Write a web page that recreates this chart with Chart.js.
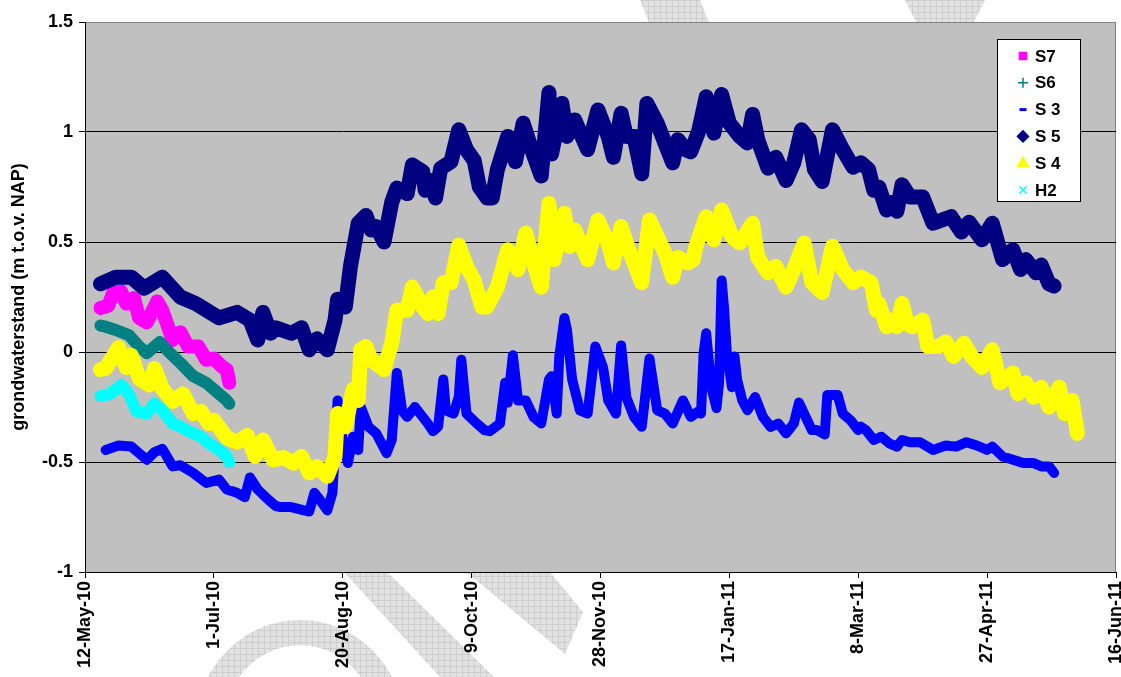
<!DOCTYPE html>
<html>
<head>
<meta charset="utf-8">
<title>grondwaterstand</title>
<script src="https://cdn.jsdelivr.net/npm/chart.js@4.4.1/dist/chart.umd.min.js"></script>
<style>
  body { margin: 0; background: #fff; }
  #wrap { width: 1121px; height: 677px; }
</style>
</head>
<body>
<div id="wrap"><canvas id="chart" width="1121" height="677"></canvas></div>
<script>
// x = days since 12-May-10, y = grondwaterstand (m t.o.v. NAP)
const tickLabels = ['12-May-10', '1-Jul-10', '20-Aug-10', '9-Oct-10', '28-Nov-10', '17-Jan-11', '8-Mar-11', '27-Apr-11', '16-Jun-11'];
const seriesNames = ['S7', 'S6', 'S 3', 'S 5', 'S 4', 'H2'];

const s7 = [[6,0.20],[9,0.21],[11,0.27],[14,0.275],[16,0.22],[19,0.245],[21,0.155],[24,0.135],[28,0.23],[30,0.19],[34,0.055],[37,0.09],[40,0.025],[44,0.025],[47,-0.035],[50,-0.03],[53,-0.065],[55,-0.08],[56,-0.14]];

const s6 = [[6,0.12],[8,0.115],[12,0.10],[17,0.077],[21,0.025],[24,-0.005],[29,0.045],[33,-0.005],[37,-0.05],[42,-0.11],[47,-0.14],[51,-0.18],[55,-0.22],[56,-0.235]];

const s3 = [[8,-0.445],[13,-0.425],[18,-0.43],[21,-0.46],[24,-0.49],[27,-0.455],[30,-0.44],[34,-0.52],[37,-0.515],[42,-0.55],[47,-0.595],[52,-0.58],[55,-0.625],[59,-0.64],[62,-0.66],[64,-0.57],[67,-0.625],[71,-0.67],[74,-0.70],[76,-0.705],[80,-0.705],[85,-0.72],[87,-0.725],[89,-0.64],[91,-0.67],[94,-0.72],[96,-0.64],[97,-0.43],[98,-0.22],[100,-0.40],[102,-0.505],[104,-0.385],[106,-0.445],[107,-0.25],[110,-0.34],[113,-0.37],[117,-0.46],[119,-0.40],[121,-0.095],[123,-0.265],[125,-0.295],[128,-0.25],[133,-0.325],[135,-0.36],[137,-0.34],[139,-0.125],[140,-0.265],[143,-0.28],[145,-0.205],[146,-0.035],[148,-0.28],[152,-0.325],[155,-0.355],[157,-0.36],[161,-0.325],[163,-0.14],[164,-0.23],[166,-0.015],[168,-0.22],[171,-0.22],[174,-0.295],[177,-0.325],[180,-0.125],[181,-0.11],[183,-0.28],[184,-0.02],[186,0.155],[187,0.10],[189,-0.125],[192,-0.265],[195,-0.28],[198,0.025],[201,-0.07],[203,-0.22],[206,-0.28],[208,0.03],[210,-0.205],[213,-0.295],[216,-0.34],[219,-0.03],[222,-0.265],[225,-0.28],[228,-0.325],[232,-0.22],[235,-0.295],[238,-0.27],[239,-0.28],[240,-0.005],[241,0.085],[243,-0.16],[245,-0.255],[246,-0.14],[247,0.325],[248,0.19],[249,-0.005],[251,-0.16],[252,-0.02],[253,-0.125],[255,-0.22],[257,-0.265],[260,-0.205],[263,-0.295],[266,-0.34],[269,-0.325],[272,-0.37],[275,-0.325],[277,-0.23],[279,-0.28],[282,-0.355],[284,-0.355],[287,-0.375],[288,-0.195],[292,-0.195],[294,-0.28],[297,-0.31],[300,-0.355],[301,-0.34],[303,-0.355],[306,-0.40],[309,-0.385],[312,-0.415],[315,-0.43],[317,-0.40],[320,-0.41],[324,-0.41],[329,-0.445],[334,-0.425],[338,-0.43],[342,-0.41],[346,-0.425],[350,-0.445],[352,-0.43],[356,-0.475],[360,-0.49],[364,-0.505],[368,-0.505],[371,-0.52],[374,-0.52],[376,-0.55]];

const s5 = [[6,0.31],[12,0.34],[18,0.34],[23,0.29],[30,0.34],[37,0.25],[43,0.22],[52,0.155],[59,0.18],[64,0.145],[67,0.055],[69,0.18],[72,0.085],[74,0.11],[80,0.085],[84,0.11],[87,0.01],[90,0.06],[94,0.01],[97,0.145],[98,0.24],[101,0.205],[103,0.39],[106,0.585],[109,0.62],[111,0.555],[113,0.57],[116,0.50],[119,0.68],[121,0.745],[125,0.72],[127,0.85],[131,0.82],[132,0.735],[134,0.78],[136,0.70],[138,0.835],[142,0.865],[145,1.01],[148,0.92],[151,0.87],[153,0.75],[156,0.70],[158,0.70],[160,0.83],[164,0.98],[167,0.865],[170,1.04],[173,0.93],[177,0.80],[180,1.18],[181,0.90],[185,1.13],[187,0.98],[190,1.055],[195,0.92],[199,1.10],[203,0.98],[205,0.885],[208,1.085],[210,0.98],[213,0.98],[216,0.81],[218,1.13],[222,1.04],[225,0.95],[228,0.86],[230,0.965],[233,0.92],[235,0.91],[238,1.00],[241,1.16],[244,0.995],[247,1.17],[250,1.04],[254,0.98],[257,0.95],[259,1.08],[261,0.965],[265,0.835],[268,0.885],[272,0.78],[275,0.86],[278,1.01],[281,0.965],[283,0.83],[286,0.775],[290,1.01],[294,0.92],[298,0.84],[301,0.86],[304,0.83],[306,0.735],[308,0.75],[311,0.645],[313,0.68],[315,0.64],[317,0.76],[320,0.705],[325,0.705],[329,0.585],[336,0.615],[340,0.545],[343,0.59],[348,0.51],[352,0.585],[356,0.42],[360,0.465],[363,0.375],[365,0.42],[369,0.36],[371,0.395],[374,0.31],[376,0.30]];

const s4 = [[6,-0.08],[8,-0.075],[13,0.02],[16,-0.07],[18,-0.015],[21,-0.12],[25,-0.15],[27,-0.075],[30,-0.165],[34,-0.225],[38,-0.19],[42,-0.28],[45,-0.27],[48,-0.325],[50,-0.31],[55,-0.39],[59,-0.41],[63,-0.38],[66,-0.475],[69,-0.40],[73,-0.49],[77,-0.48],[81,-0.505],[84,-0.475],[87,-0.55],[90,-0.52],[94,-0.565],[97,-0.475],[98,-0.28],[101,-0.34],[104,-0.17],[106,-0.22],[107,0.01],[109,0.025],[111,-0.035],[116,-0.08],[119,0.04],[121,0.19],[125,0.19],[127,0.295],[131,0.205],[133,0.175],[135,0.25],[137,0.175],[139,0.315],[142,0.315],[145,0.485],[148,0.39],[151,0.325],[154,0.205],[156,0.205],[160,0.295],[164,0.465],[168,0.375],[171,0.54],[174,0.405],[177,0.295],[180,0.675],[182,0.42],[186,0.63],[188,0.48],[190,0.555],[195,0.42],[199,0.60],[203,0.495],[205,0.405],[208,0.57],[211,0.465],[213,0.405],[216,0.315],[219,0.60],[222,0.525],[225,0.45],[228,0.34],[230,0.43],[234,0.405],[236,0.42],[237,0.48],[241,0.615],[244,0.51],[247,0.645],[251,0.525],[254,0.495],[259,0.585],[261,0.43],[265,0.36],[268,0.39],[272,0.295],[275,0.375],[279,0.495],[282,0.315],[286,0.27],[290,0.48],[294,0.375],[298,0.315],[301,0.34],[305,0.315],[307,0.19],[308,0.22],[311,0.115],[313,0.145],[315,0.115],[317,0.22],[319,0.13],[321,0.115],[325,0.145],[327,0.025],[331,0.025],[334,0.045],[337,-0.02],[341,0.04],[344,-0.02],[348,-0.07],[352,0.01],[355,-0.14],[360,-0.095],[362,-0.19],[365,-0.14],[368,-0.205],[371,-0.16],[374,-0.25],[378,-0.16],[380,-0.28],[383,-0.22],[385,-0.37]];

const h2 = [[6,-0.20],[10,-0.19],[14,-0.15],[17,-0.19],[20,-0.27],[24,-0.28],[27,-0.235],[30,-0.265],[34,-0.325],[37,-0.34],[41,-0.365],[45,-0.385],[48,-0.415],[52,-0.445],[55,-0.475],[56,-0.50]];

const FONT = 'Arial, "Liberation Sans", sans-serif';

function toPoints(arr) {
    return arr.map(function (p) { return { x: p[0], y: p[1] }; });
}

function makeSeries(name, arr, color, style, width, order) {
    return {
        label: name,
        data: toPoints(arr),
        showLine: true,
        borderColor: color,
        backgroundColor: color,
        borderWidth: width,
        borderJoinStyle: 'round',
        borderCapStyle: 'round',
        pointStyle: style,
        pointRadius: 0,
        pointHitRadius: 0,
        tension: 0,
        order: order
    };
}

// light hatched pattern for the watermark
function hatchPattern(ctx) {
    const c = document.createElement('canvas');
    c.width = 6; c.height = 6;
    const p = c.getContext('2d');
    p.fillStyle = '#e2e2e2';
    p.fillRect(0, 0, 6, 6);
    p.fillStyle = '#cdcdcd';
    p.fillRect(0, 0, 6, 1);
    p.fillRect(0, 0, 1, 6);
    return ctx.createPattern(c, 'repeat');
}

const backgroundPlugin = {
    id: 'background',
    beforeDraw(chart) {
        const ctx = chart.ctx;
        const a = chart.chartArea;
        ctx.save();
        ctx.fillStyle = '#fff';
        ctx.fillRect(0, 0, chart.width, chart.height);

        // watermark (only shows outside the plot area)
        ctx.fillStyle = hatchPattern(ctx);
        ctx.beginPath();
        ctx.ellipse(300, 730, 105, 110, 0, 0, Math.PI * 2);
        ctx.ellipse(300, 730, 78, 85, 0, 0, Math.PI * 2, true);
        ctx.fill('evenodd');
        const polys = [
            [[333, 560], [375, 560], [494, 677], [440, 677]],
            [[452, 560], [540, 560], [583, 612], [565, 654]],
            [[640, 0], [700, 0], [712, 30], [652, 30]],
            [[905, 0], [985, 0], [970, 30], [920, 30]]
        ];
        polys.forEach(function (pts) {
            ctx.beginPath();
            ctx.moveTo(pts[0][0], pts[0][1]);
            for (let i = 1; i < pts.length; i++) ctx.lineTo(pts[i][0], pts[i][1]);
            ctx.closePath();
            ctx.fill();
        });

        // plot area
        ctx.fillStyle = '#c0c0c0';
        ctx.fillRect(a.left, a.top, a.right - a.left, a.bottom - a.top);
        ctx.strokeStyle = '#808080';
        ctx.lineWidth = 1;
        ctx.strokeRect(Math.round(a.left) + 0.5, Math.round(a.top) + 0.5, Math.round(a.right - a.left) - 1, Math.round(a.bottom - a.top));
        ctx.restore();
    },
    afterDraw(chart) {
        // legend box inside the plot, Excel style
        const ctx = chart.ctx;
        const bx = 997, by = 39, bw = 83, bh = 162;
        ctx.save();
        ctx.fillStyle = '#fff';
        ctx.fillRect(bx, by, bw, bh);
        ctx.strokeStyle = '#000';
        ctx.lineWidth = 1;
        ctx.strokeRect(bx + 0.5, by + 0.5, bw, bh);
        const sizes = { rect: 5, cross: 5, line: 3.5, rectRot: 5.5, triangle: 6, crossRot: 5 };
        chart.data.datasets.forEach(function (ds, i) {
            const y = 56 + i * 26.8;
            ctx.fillStyle = ds.borderColor;
            ctx.strokeStyle = ds.borderColor;
            ctx.lineWidth = ds.pointStyle === 'line' ? 3 : 1.5;
            Chart.helpers.drawPoint(ctx, {
                pointStyle: ds.pointStyle,
                radius: sizes[ds.pointStyle],
                rotation: 0,
                borderWidth: ctx.lineWidth
            }, 1023, y);
            ctx.fillStyle = '#000';
            ctx.font = 'bold 17px ' + FONT;
            ctx.textBaseline = 'middle';
            ctx.textAlign = 'left';
            ctx.fillText(ds.label, 1035, y + 1);
        });
        ctx.restore();
    }
};

const ctx = document.getElementById('chart').getContext('2d');
const groundwaterChart = new Chart(ctx, {
    type: 'scatter',
    data: {
        datasets: [
            makeSeries(seriesNames[0], s7, '#ff00ff', 'rect', 14, 6),
            makeSeries(seriesNames[1], s6, '#008080', 'cross', 12, 5),
            makeSeries(seriesNames[2], s3, '#0000ff', 'line', 10, 4),
            makeSeries(seriesNames[3], s5, '#000080', 'rectRot', 15, 3),
            makeSeries(seriesNames[4], s4, '#ffff00', 'triangle', 15, 2),
            makeSeries(seriesNames[5], h2, '#00ffff', 'crossRot', 12, 1)
        ]
    },
    options: {
        responsive: false,
        animation: false,
        devicePixelRatio: 1,
        layout: { padding: { top: 22, right: 5, left: 0, bottom: 0 } },
        plugins: {
            legend: { display: false },
            tooltip: { enabled: false }
        },
        scales: {
            x: {
                type: 'linear',
                position: 'bottom',
                min: 0,
                max: 400,
                ticks: {
                    stepSize: 50,
                    autoSkip: false,
                    minRotation: 90,
                    maxRotation: 90,
                    padding: 3,
                    color: '#000',
                    font: { family: FONT, size: 18, weight: 'bold' },
                    callback: function (v) { return tickLabels[Math.round(v / 50)]; }
                },
                grid: { drawOnChartArea: false, tickLength: 6, tickColor: '#000' },
                border: { display: true, color: '#000', width: 1 },
                afterFit: function (s) {
                    s.height = 105;
                    s.paddingLeft = 0;
                    s.paddingRight = 0;
                }
            },
            y: {
                min: -1,
                max: 1.5,
                ticks: {
                    stepSize: 0.5,
                    padding: 6,
                    color: '#000',
                    font: { family: FONT, size: 18, weight: 'bold' },
                    callback: function (v) { return String(Math.round(v * 10) / 10); }
                },
                grid: {
                    color: function (c) {
                        return (c.tick && (c.tick.value === 1.5 || c.tick.value === -1)) ? '#808080' : '#000';
                    },
                    tickLength: 6,
                    tickColor: '#000'
                },
                border: { display: true, color: '#000', width: 1 },
                title: {
                    display: true,
                    text: 'grondwaterstand (m t.o.v. NAP)',
                    color: '#000',
                    font: { family: FONT, size: 18, weight: 'bold' },
                    padding: { top: 8, bottom: 0 }
                },
                afterFit: function (s) { s.width = 85; }
            }
        }
    },
    plugins: [backgroundPlugin]
});
</script>
</body>
</html>
